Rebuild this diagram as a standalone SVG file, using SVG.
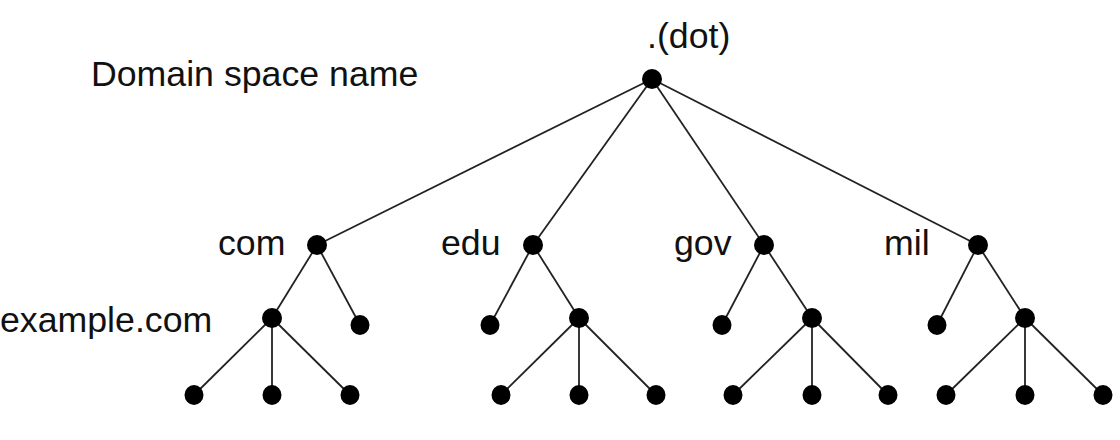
<svg xmlns="http://www.w3.org/2000/svg" width="1120" height="440" viewBox="0 0 1120 440">
<style>
.lbl{font-family:"Liberation Sans",Arial,sans-serif;font-size:35.7px;fill:#111}
.e{stroke:#222;stroke-width:1.8;fill:none}
.n{fill:#000}
</style>
<rect width="1120" height="440" fill="#fff"/>
<text class="lbl" x="91" y="86">Domain space name</text>
<text class="lbl" x="0" y="332">example.com</text>
<g id="connectors">
<line class="e" x1="652" y1="79" x2="317" y2="245"/>
<line class="e" x1="652" y1="79" x2="533" y2="245"/>
<line class="e" x1="652" y1="79" x2="764" y2="245"/>
<line class="e" x1="652" y1="79" x2="978" y2="245"/>
<line class="e" x1="317" y1="245" x2="272" y2="318"/>
<line class="e" x1="317" y1="245" x2="360" y2="325"/>
<line class="e" x1="533" y1="245" x2="490" y2="325"/>
<line class="e" x1="533" y1="245" x2="579" y2="318"/>
<line class="e" x1="764" y1="245" x2="722" y2="325"/>
<line class="e" x1="764" y1="245" x2="812" y2="318"/>
<line class="e" x1="978" y1="245" x2="937" y2="325"/>
<line class="e" x1="978" y1="245" x2="1025" y2="318"/>
<line class="e" x1="272" y1="318" x2="194" y2="395"/>
<line class="e" x1="272" y1="318" x2="272" y2="395"/>
<line class="e" x1="272" y1="318" x2="350" y2="395"/>
<line class="e" x1="579" y1="318" x2="501" y2="395"/>
<line class="e" x1="579" y1="318" x2="579" y2="395"/>
<line class="e" x1="579" y1="318" x2="656" y2="395"/>
<line class="e" x1="812" y1="318" x2="733" y2="395"/>
<line class="e" x1="812" y1="318" x2="812" y2="395"/>
<line class="e" x1="812" y1="318" x2="888" y2="395"/>
<line class="e" x1="1025" y1="318" x2="946" y2="395"/>
<line class="e" x1="1025" y1="318" x2="1025" y2="395"/>
<line class="e" x1="1025" y1="318" x2="1103" y2="395"/>
</g>
<g id="root"><text class="lbl" x="647" y="48">.(dot)</text><circle class="n" cx="652" cy="79" r="10"/></g>
<g id="com"><text class="lbl" x="218" y="255">com</text><circle class="n" cx="317" cy="245" r="10"/></g>
<g id="edu"><text class="lbl" x="441" y="255">edu</text><circle class="n" cx="533" cy="245" r="10"/></g>
<g id="gov"><text class="lbl" x="674" y="255">gov</text><circle class="n" cx="764" cy="245" r="10"/></g>
<g id="mil"><text class="lbl" x="884" y="255">mil</text><circle class="n" cx="978" cy="245" r="10"/></g>
<g id="example-com"><circle class="n" cx="272" cy="318" r="10"/></g>
<g id="com-leaf"><ellipse class="n" cx="360" cy="325" rx="9.5" ry="10"/></g>
<g id="edu-leaf"><ellipse class="n" cx="490" cy="325" rx="9.5" ry="10"/></g>
<g id="edu-sub"><circle class="n" cx="579" cy="318" r="10"/></g>
<g id="gov-leaf"><ellipse class="n" cx="722" cy="325" rx="9.5" ry="10"/></g>
<g id="gov-sub"><circle class="n" cx="812" cy="318" r="10"/></g>
<g id="mil-leaf"><ellipse class="n" cx="937" cy="325" rx="9.5" ry="10"/></g>
<g id="mil-sub"><circle class="n" cx="1025" cy="318" r="10"/></g>
<g id="leaf-1"><ellipse class="n" cx="194" cy="395" rx="9.5" ry="10"/></g>
<g id="leaf-2"><ellipse class="n" cx="272" cy="395" rx="9.5" ry="10"/></g>
<g id="leaf-3"><ellipse class="n" cx="350" cy="395" rx="9.5" ry="10"/></g>
<g id="leaf-4"><ellipse class="n" cx="501" cy="395" rx="9.5" ry="10"/></g>
<g id="leaf-5"><ellipse class="n" cx="579" cy="395" rx="9.5" ry="10"/></g>
<g id="leaf-6"><ellipse class="n" cx="656" cy="395" rx="9.5" ry="10"/></g>
<g id="leaf-7"><ellipse class="n" cx="733" cy="395" rx="9.5" ry="10"/></g>
<g id="leaf-8"><ellipse class="n" cx="812" cy="395" rx="9.5" ry="10"/></g>
<g id="leaf-9"><ellipse class="n" cx="888" cy="395" rx="9.5" ry="10"/></g>
<g id="leaf-10"><ellipse class="n" cx="946" cy="395" rx="9.5" ry="10"/></g>
<g id="leaf-11"><ellipse class="n" cx="1025" cy="395" rx="9.5" ry="10"/></g>
<g id="leaf-12"><ellipse class="n" cx="1103" cy="395" rx="9.5" ry="10"/></g>
</svg>
